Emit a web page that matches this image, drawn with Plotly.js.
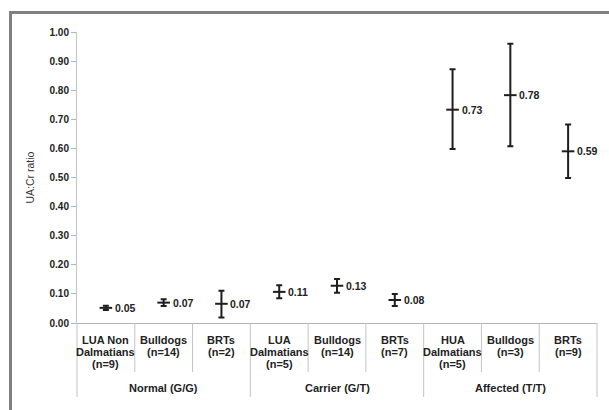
<!DOCTYPE html>
<html>
<head>
<meta charset="utf-8">
<script src="https://cdn.plot.ly/plotly-3.0.1.min.js"></script>
<style>
  html, body { margin: 0; padding: 0; background: #ffffff; }
  #chart { width: 609px; height: 410px; }
</style>
</head>
<body>
<div id="chart"></div>
<script>
// ---- data ----
var categories = [
  'LUA Non<br>Dalmatians<br>(n=9)',
  'Bulldogs<br>(n=14)',
  'BRTs<br>(n=2)',
  'LUA<br>Dalmatians<br>(n=5)',
  'Bulldogs<br>(n=14)',
  'BRTs<br>(n=7)',
  'HUA<br>Dalmatians<br>(n=5)',
  'Bulldogs<br>(n=3)',
  'BRTs<br>(n=9)'
];
var groups = ['Normal (G/G)', 'Carrier (G/T)', 'Affected (T/T)'];
var groupSizes = [3, 3, 3];
var means    = [0.052, 0.070, 0.066, 0.107, 0.128, 0.079, 0.733, 0.783, 0.590];
var errPlus  = [0.007, 0.012, 0.045, 0.023, 0.023, 0.021, 0.139, 0.177, 0.092];
var errMinus = [0.007, 0.012, 0.047, 0.022, 0.024, 0.021, 0.135, 0.176, 0.092];
var yTickVals = [0, 0.1, 0.2, 0.3, 0.4, 0.5, 0.6, 0.7, 0.8, 0.9, 1.0];

// ---- layout constants ----
var W = 609, H = 410;
var ML = 77, MR = 12, MT = 32, MB = 87;
var plotW = W - ML - MR, plotH = H - MT - MB;
var FONT = 'Liberation Sans, Arial, sans-serif';
var TXT = '#222222';
var SEP = '#c4c4c4';

var xIdx = categories.map(function (c, i) { return i; });

var trace = {
  type: 'scatter',
  mode: 'markers',
  x: xIdx,
  y: means,
  marker: { symbol: 'line-ew', size: 9, line: { width: 2, color: '#1e1e1e' }, color: '#1e1e1e' },
  error_y: {
    type: 'data', symmetric: false,
    array: errPlus, arrayminus: errMinus,
    color: '#1e1e1e', thickness: 2, width: 3
  },
  hoverinfo: 'skip',
  showlegend: false
};

function pxToPaperY(py) { return (H - MB - py) / plotH; }
function pxToPaperX(px) { return (px - ML) / plotW; }

var annotations = [];
// value labels
means.forEach(function (m, i) {
  annotations.push({
    x: xIdx[i], y: m, xref: 'x', yref: 'y',
    text: m.toFixed(2), showarrow: false,
    xanchor: 'left', yanchor: 'middle', xshift: 7,
    font: { family: FONT, size: 10.5, color: TXT, weight: 'bold' }
  });
});
// category labels, one annotation per line
categories.forEach(function (c, i) {
  c.split('<br>').forEach(function (line, k) {
    annotations.push({
      x: xIdx[i], y: 0, xref: 'x', yref: 'paper',
      text: line, showarrow: false,
      xanchor: 'center', yanchor: 'middle', yshift: -16.5 - 12 * k,
      font: { family: FONT, size: 11, color: TXT, weight: 'bold' }
    });
  });
});
// group labels
var start = 0;
groups.forEach(function (g, gi) {
  var center = start + (groupSizes[gi] - 1) / 2;
  annotations.push({
    x: center, y: 0, xref: 'x', yref: 'paper',
    text: g, showarrow: false,
    xanchor: 'center', yanchor: 'middle', yshift: -64.5,
    font: { family: FONT, size: 11, color: TXT, weight: 'bold' }
  });
  start += groupSizes[gi];
});

// separators below the axis
var shapes = [];
var n = categories.length;
var groupEdges = [0];
groupSizes.reduce(function (acc, s) { groupEdges.push(acc + s); return acc + s; }, 0);
for (var b = 0; b <= n; b++) {
  var isGroup = groupEdges.indexOf(b) >= 0;
  shapes.push({
    type: 'line', xref: 'paper', yref: 'paper',
    x0: b / n, x1: b / n,
    y0: 0, y1: pxToPaperY(isGroup ? 397 : 372),
    line: { color: SEP, width: 1 }
  });
}
// outer frame (top and left edges)
shapes.push({ type: 'line', xref: 'paper', yref: 'paper',
  x0: pxToPaperX(9), x1: pxToPaperX(609), y0: pxToPaperY(12.5), y1: pxToPaperY(12.5),
  line: { color: '#808080', width: 3 } });
shapes.push({ type: 'line', xref: 'paper', yref: 'paper',
  x0: pxToPaperX(10.5), x1: pxToPaperX(10.5), y0: pxToPaperY(11), y1: pxToPaperY(411),
  line: { color: '#808080', width: 3 } });

var layout = {
  width: W, height: H,
  margin: { l: ML, r: MR, t: MT, b: MB, pad: 0 },
  paper_bgcolor: '#ffffff', plot_bgcolor: '#ffffff',
  showlegend: false,
  xaxis: {
    type: 'linear', range: [-0.5, n - 0.5],
    showticklabels: false, ticks: '', showgrid: false, zeroline: false,
    showline: true, linecolor: '#b4b4b4', linewidth: 1, fixedrange: true
  },
  yaxis: {
    range: [0, 1], tickvals: yTickVals, tickformat: '.2f',
    ticks: 'outside', ticklen: 5, tickcolor: '#b4b4b4', tickwidth: 1,
    showline: true, linecolor: '#c4c4c4', linewidth: 1,
    showgrid: false, zeroline: false, fixedrange: true,
    tickfont: { family: FONT, size: 10, color: TXT, weight: 'bold' },
    title: { text: 'UA:Cr ratio', font: { family: FONT, size: 10.5, color: '#333333' }, standoff: 12 }
  },
  annotations: annotations,
  shapes: shapes
};

Plotly.newPlot('chart', [trace], layout, { displayModeBar: false, staticPlot: true });
</script>
</body>
</html>
